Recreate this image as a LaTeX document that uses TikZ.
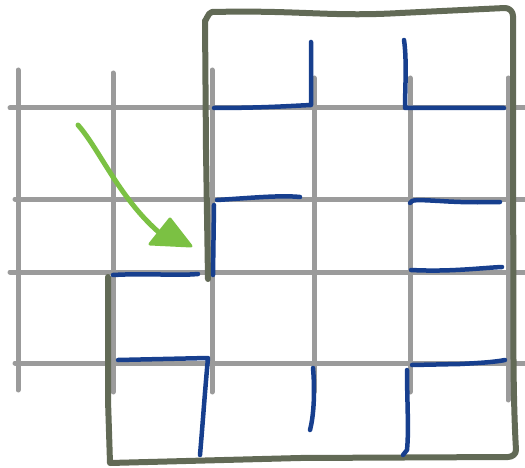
\documentclass[tikz,border=0pt]{standalone}
\definecolor{gridgray}{HTML}{9B9B9B}
\definecolor{boxolive}{HTML}{626A56}
\definecolor{penblue}{HTML}{173F8E}
\definecolor{pengreen}{HTML}{7BC143}
\tikzset{
  gridline/.style={draw=gridgray, line width=5pt, line cap=round},
  boxline/.style={draw=boxolive, line width=6pt, line cap=round, line join=round},
  penline/.style={draw=penblue, line width=4.5pt, line cap=round, line join=round},
  arrowline/.style={draw=pengreen, line width=5pt, line cap=round},
  arrowhead/.style={fill=pengreen, draw=pengreen, line width=3pt, line join=round},
}
\begin{document}
\begin{tikzpicture}[x=1pt, y=-1pt]
\useasboundingbox (0,0) rectangle (525,468);
% grid verticals
\draw[gridline] (18,70) -- (18,390);
\draw[gridline] (113,73) -- (113,392);
\draw[gridline] (212,70) -- (212,392);
\draw[gridline] (314,78) -- (314,392);
\draw[gridline] (410,78) -- (410,392);
\draw[gridline] (508,78) -- (508,400);
% grid horizontals
\draw[gridline] (10,108) -- (527,108);
\draw[gridline] (15,199) -- (527,199);
\draw[gridline] (10,272) -- (527,272);
\draw[gridline] (15,363) -- (527,363);
% olive outline
\coordinate (b1) at (208,279);
\coordinate (b2) at (205,14);
\coordinate (b3) at (512,9);
\coordinate (b4) at (516,455);
\coordinate (b5) at (108,463);
\coordinate (b6) at (108,277);
\draw[boxline] (b1) -- (206,150) -- (205,20) to[out=-90,in=180] (212,12)
  .. controls (300,10) and (330,17) .. (400,13) -- (505,8)
  to[out=0,in=90] (513,16) -- (513,200) .. controls (514,300) and (512,380) .. (516,450)
  to[out=-90,in=0] (508,457) -- (300,458) -- (110,463) -- (108,400) -- (b6);
% blue pen strokes
\draw[penline] (214,108) .. controls (260,108) and (290,106) .. (311,105) -- (311,42);
\draw[penline] (404,40) .. controls (407,60) and (405,90) .. (405,108) -- (504,108);
\draw[penline] (217,200) .. controls (250,198) and (280,195) .. (300,197);
\draw[penline] (410,203) .. controls (411,199) and (420,200) .. (440,201) .. controls (470,203) and (490,202) .. (500,202);
\draw[penline] (214,205) -- (213,275);
\draw[penline] (113,275) .. controls (150,273) and (175,276) .. (198,274);
\draw[penline] (411,270) .. controls (450,272) and (480,268) .. (502,267);
\draw[penline] (118,360) -- (208,358) .. controls (205,390) and (203,420) .. (200,455);
\draw[penline] (313,368) .. controls (315,390) and (314,415) .. (310,430);
\draw[penline] (412,365) -- (460,364) .. controls (480,363) and (495,362) .. (505,360);
\draw[penline] (407,370) .. controls (407,400) and (409,430) .. (407,450) -- (403,455);
% green arrow
\coordinate (a0) at (78,125);
\coordinate (a1) at (162,235);
\draw[arrowline] (a0) .. controls (100,150) and (120,200) .. (a1);
\fill[arrowhead] (170,219) -- (150,244) -- (191,246) -- cycle;
\end{tikzpicture}
\end{document}
